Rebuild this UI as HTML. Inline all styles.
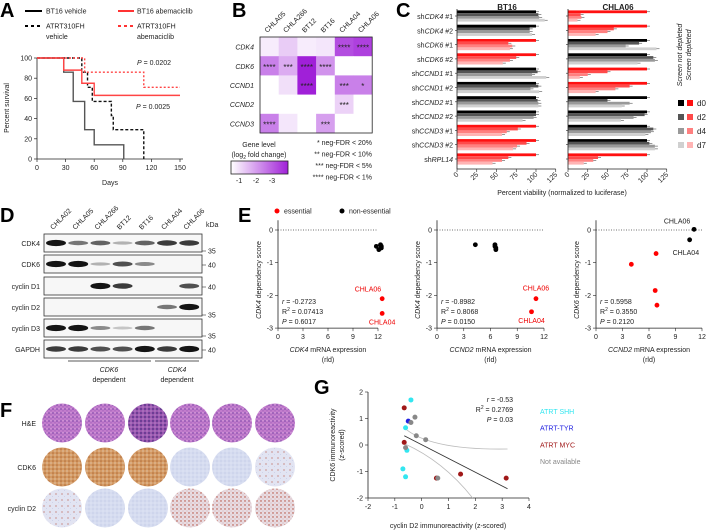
<!DOCTYPE html>
<html><head><meta charset="utf-8">
<style>
html,body{margin:0;padding:0;background:#fff;}
svg{display:block;font-family:"Liberation Sans",sans-serif;}
text{fill:#222;}
.t7{font-size:7px;}
.t8{font-size:8px;}
.lab{font-size:20px;font-weight:bold;fill:#000;}
</style></head>
<body>
<svg id="fig" width="708" height="532" viewBox="0 0 708 532" xmlns="http://www.w3.org/2000/svg">
<defs>
<linearGradient id="hmgrad" x1="0" x2="1" y1="0" y2="0"><stop offset="0" stop-color="#ffffff"/><stop offset="1" stop-color="#a020d8"/></linearGradient>
<pattern id="pHE" width="4" height="4" patternUnits="userSpaceOnUse"><rect width="4" height="4" fill="#c27ccc"/><circle cx="1" cy="1" r="0.8" fill="#7a48a8"/><circle cx="3" cy="2.8" r="0.6" fill="#9a5ab8"/><circle cx="3" cy="0.6" r="0.4" fill="#f0d8f0"/></pattern>
<pattern id="pHE2" width="4" height="4" patternUnits="userSpaceOnUse"><rect width="4" height="4" fill="#9a58b0"/><circle cx="1" cy="1" r="0.9" fill="#4a2a80"/><circle cx="3" cy="3" r="0.5" fill="#e8c8ec"/></pattern>
<pattern id="pBr" width="4" height="4" patternUnits="userSpaceOnUse"><rect width="4" height="4" fill="#d49a64"/><circle cx="1" cy="1" r="0.8" fill="#b06a38"/><circle cx="3" cy="3" r="0.6" fill="#ecdccc"/></pattern>
<pattern id="pBl" width="4" height="4" patternUnits="userSpaceOnUse"><rect width="4" height="4" fill="#d6dcf0"/><circle cx="1" cy="1" r="0.6" fill="#bcc4e2"/><circle cx="3" cy="3" r="0.5" fill="#eef0f8"/></pattern>
<pattern id="pBlDot" width="6" height="6" patternUnits="userSpaceOnUse"><rect width="6" height="6" fill="#e2e4f2"/><circle cx="2" cy="2" r="0.6" fill="#b85848"/><circle cx="4.5" cy="4.5" r="0.5" fill="#c8cce6"/></pattern>
<pattern id="pRd" width="4" height="4" patternUnits="userSpaceOnUse"><rect width="4" height="4" fill="#e8dce2"/><circle cx="1" cy="1" r="0.7" fill="#b04432"/><circle cx="3" cy="3" r="0.5" fill="#c8a0a0"/></pattern>
</defs>

<text class="lab" x="0" y="17">A</text>
<text class="lab" x="232" y="17">B</text>
<text class="lab" x="396" y="17">C</text>
<text class="lab" x="0" y="222">D</text>
<text class="lab" x="238" y="222">E</text>
<text class="lab" x="0" y="417">F</text>
<text class="lab" x="314" y="394">G</text>

<g id="gA"></g>
<g id="gB"></g>
<g id="gC"></g>
<g id="gD"></g>
<g id="gE"></g>
<g id="gF"></g>
<g id="gG"></g>
</svg>
<script>
// ---------- Panel A data ----------
const survTimesBT16Veh = [0,28,38,50,60,91];
const survPctBT16Veh = [100,86,57,29,14,0];
const survTimesBT16Abe = [0,28,47,60,150];
const survPctBT16Abe = [100,88,75,63,63];
const survTimes310Veh = [0,47,53,58,78,80,112];
const survPct310Veh = [100,86,71,57,43,29,0];
const survTimes310Abe = [0,50,112,150];
const survPct310Abe = [100,86,71,71];
const survXTicks = [0,30,60,90,120,150];
const survYTicks = [0,20,40,60,80,100];

// ---------- Panel B data ----------
const hmCols = ["CHLA05","CHLA266","BT12","BT16","CHLA04","CHLA06"];
const hmRows = ["CDK4","CDK6","CCND1","CCND2","CCND3"];
const hmCDK4 = [-0.3,-0.8,-0.3,-0.4,-2.8,-3.0];
const hmCDK6 = [-2.0,-1.3,-3.5,-1.7,0,0];
const hmCCND1 = [0,-0.5,-3.5,0,-2.0,-2.0];
const hmCCND2 = [0,0,0,0,-0.7,0];
const hmCCND3 = [-2.0,-0.4,0,-1.5,0,0];
const hmStarsCDK4 = [0,0,0,0,4,4];
const hmStarsCDK6 = [4,3,4,4,0,0];
const hmStarsCCND1 = [0,0,4,0,3,1];
const hmStarsCCND2 = [0,0,0,0,3,0];
const hmStarsCCND3 = [4,0,0,3,0,0];

// ---------- Panel C data ----------
const shRows = [["CDK4"," #1"],["CDK4"," #2"],["CDK6"," #1"],["CDK6"," #2"],["CCND1"," #1"],["CCND1"," #2"],["CCND2"," #1"],["CCND2"," #2"],["CCND3"," #1"],["CCND3"," #2"],["RPL14",""]];
const bt16D0 = [100,100,100,100,100,100,100,100,100,100,100];
const bt16D2 = [103,92,65,75,102,103,102,100,77,88,65];
const bt16D4 = [104,92,70,67,95,93,103,97,63,76,57];
const bt16D7 = [111,95,67,58,113,104,103,83,57,71,45];
const bt16Depleted = [0,0,1,1,0,0,0,0,1,1,1];
const chla06D0 = [100,100,100,100,100,100,100,100,100,100,100];
const chla06D2 = [16,58,90,108,50,78,50,97,108,103,38];
const chla06D4 = [17,50,73,110,25,60,78,83,105,110,32];
const chla06D7 = [12,35,112,88,15,35,68,67,98,110,20];
const chla06Depleted = [1,1,0,0,1,1,0,0,0,0,1];
const viabTicks = [0,25,50,75,100,125];

// ---------- Panel D data ----------
const blotLanes = ["CHLA02","CHLA05","CHLA266","BT12","BT16","CHLA04","CHLA06"];
const blotRows = ["CDK4","CDK6","cyclin D1","cyclin D2","cyclin D3","GAPDH"];
const blotKDa = ["35","40","40","35","35","40"];
const bandCDK4 = [1,.5,.6,.2,.6,.8,.8];
const bandCDK6 = [1,1,.2,.7,.4,0,0];
const bandD1 = [0,0,1,.8,0,0,.7];
const bandD2 = [0,0,0,0,0,.5,1];
const bandD3 = [1,1,.4,.1,.5,0,0];
const bandGAPDH = [.8,.8,.7,.7,1,.8,1];

// ---------- Panel E data ----------
const e1X = [11.8,12.3,12.4,12.1,12.4,12.5,12.5];
const e1Y = [-0.5,-0.45,-0.55,-0.6,-0.5,-2.1,-2.55];
const e1Ess = [0,0,0,0,0,1,1];
const e2X = [4.3,6.5,6.6,6.6,6.5,11.1,10.6];
const e2Y = [-0.45,-0.5,-0.55,-0.6,-0.45,-2.1,-2.5];
const e2Ess = [0,0,0,0,0,1,1];
const e3X = [11.1,10.6,6.8,4.0,6.7,6.9];
const e3Y = [0.02,-0.3,-0.72,-1.05,-1.85,-2.3];
const e3Ess = [0,0,1,1,1,1];
const eXTicks = [0,3,6,9,12];
const eYTicks = [0,-1,-2,-3];

// ---------- Panel G data ----------
const gX = [-0.4,-0.6,-0.55,-0.7,-0.6,-0.5,-0.65,-0.65,0.55,1.45,3.15,-0.4,-0.25,-0.2,0.15,-0.6,0.6];
const gY = [1.7,0.65,-0.2,-0.9,-1.2,0.9,1.4,0.1,-1.25,-1.1,-1.25,0.85,1.05,0.35,0.2,-0.1,-1.25];
const gGroup = [0,0,0,0,0,1,2,2,2,2,2,3,3,3,3,3,3];
const gGroupNames = ["ATRT SHH","ATRT-TYR","ATRT MYC","Not available"];
const gFitX = [-0.65,3.2];
const gFitY = [0.35,-1.65];
const gXTicks = [-2,-1,0,1,2,3,4];
const gYTicks = [-2,-1,0,1,2];

const NS="http://www.w3.org/2000/svg";
function mk(parent,tag,attrs,txt){const e=document.createElementNS(NS,tag);for(const k in attrs)e.setAttribute(k,attrs[k]);if(txt!==undefined)e.textContent=txt;parent.appendChild(e);return e;}

// ================= A =================
(function(){
const g=document.getElementById('gA');
const xA=d=>37+d*(143/150), yA=p=>159-p*1.01;
mk(g,'line',{x1:37,y1:58,x2:37,y2:159,stroke:'#222','stroke-width':0.8});
mk(g,'line',{x1:37,y1:159,x2:183,y2:159,stroke:'#222','stroke-width':0.8});
survXTicks.forEach(t=>{mk(g,'line',{x1:xA(t),y1:159,x2:xA(t),y2:162,stroke:'#222','stroke-width':0.7});
 const l=mk(g,'text',{x:xA(t),y:170,'text-anchor':'middle',class:'t7'},t);
 
 });
survYTicks.forEach(t=>{mk(g,'line',{x1:34,y1:yA(t),x2:37,y2:yA(t),stroke:'#222','stroke-width':0.7});
 const l=mk(g,'text',{x:32,y:yA(t)+2.5,'text-anchor':'end',class:'t7'},t);
 
 });
let tt=mk(g,'text',{x:110,y:185,'text-anchor':'middle',class:'t7'},'Days');

tt=mk(g,'text',{x:9,y:108,'text-anchor':'middle',class:'t7',transform:'rotate(-90 9 108)'},'Percent survival');

function step(ts,ps,col,dash,name){let d='M'+xA(ts[0])+','+yA(ps[0]);
 for(let i=1;i<ts.length;i++){d+=' H'+xA(ts[i])+' V'+yA(ps[i]);}
 const p=mk(g,'path',{d:d,fill:'none',stroke:col,'stroke-width':1.4,'stroke-dasharray':dash});
 }
step(survTimesBT16Veh,survPctBT16Veh,'#555','', 'bt16-vehicle-curve');
step(survTimes310Veh,survPct310Veh,'#111','3,2','atrt310fh-vehicle-curve');
step(survTimesBT16Abe,survPctBT16Abe,'#f44','', 'bt16-abemaciclib-curve');
step(survTimes310Abe,survPct310Abe,'#f44','2,2','atrt310fh-abemaciclib-curve');
tt=mk(g,'text',{x:137,y:65,class:'t7'},'');mk(tt,'tspan',{'font-style':'italic'},'P');mk(tt,'tspan',{},' = 0.0202');

tt=mk(g,'text',{x:136,y:109,class:'t7'},'');mk(tt,'tspan',{'font-style':'italic'},'P');mk(tt,'tspan',{},' = 0.0025');

const lg=mk(g,'g',{});
mk(lg,'line',{x1:25,y1:11,x2:42,y2:11,stroke:'#000','stroke-width':2});
mk(lg,'text',{x:46,y:13.5,class:'t7'},'BT16 vehicle');
mk(lg,'line',{x1:118,y1:11,x2:134,y2:11,stroke:'#f33','stroke-width':2});
mk(lg,'text',{x:137,y:13.5,class:'t7'},'BT16 abemaciclib');
mk(lg,'line',{x1:25,y1:26,x2:42,y2:26,stroke:'#000','stroke-width':2,'stroke-dasharray':'3,3'});
mk(lg,'text',{x:46,y:28.5,class:'t7'},'ATRT310FH');
mk(lg,'text',{x:46,y:39,class:'t7'},'vehicle');
mk(lg,'line',{x1:118,y1:26,x2:134,y2:26,stroke:'#f33','stroke-width':2,'stroke-dasharray':'3,3'});
mk(lg,'text',{x:137,y:28.5,class:'t7'},'ATRT310FH');
mk(lg,'text',{x:137,y:39,class:'t7'},'abemaciclib');
})();

// ================= B =================
(function(){
const g=document.getElementById('gB');
const L=260,T=37,cw=18.7,rh=19.2;
const vals=[hmCDK4,hmCDK6,hmCCND1,hmCCND2,hmCCND3];
const stars=[hmStarsCDK4,hmStarsCDK6,hmStarsCCND1,hmStarsCCND2,hmStarsCCND3];
function col(v){const f=Math.min(1,Math.max(0,-v/3.5));
 const r=Math.round(255+(160-255)*f),gg=Math.round(255+(32-255)*f),b=Math.round(255+(216-255)*f);return 'rgb('+r+','+gg+','+b+')';}
vals.forEach((row,ri)=>{row.forEach((v,ci)=>{
 const c=mk(g,'rect',{x:L+ci*cw,y:T+ri*rh,width:cw+0.3,height:rh+0.3,fill:col(v)});
 
 const s=stars[ri][ci];
 if(s>0){const st=mk(g,'text',{x:L+ci*cw+cw/2,y:T+ri*rh+rh/2+4,'text-anchor':'middle',style:'font-size:8px;fill:#222'},'*'.repeat(s));
  }
});
 const rl=mk(g,'text',{x:254,y:T+ri*rh+rh/2+3,'text-anchor':'end',class:'t7','font-style':'italic'},hmRows[ri]);
 
});
mk(g,'rect',{x:L,y:T,width:cw*6,height:rh*5,fill:'none',stroke:'#222','stroke-width':0.8});
hmCols.forEach((c,ci)=>{const x=L+ci*cw+cw/2-2,y=T-4;
 const t=mk(g,'text',{x:x,y:y,class:'t7',transform:'rotate(-45 '+x+' '+y+')'},c);
 });
mk(g,'text',{x:259,y:147,'text-anchor':'middle',class:'t7'},'Gene level');
const fl=mk(g,'text',{x:259,y:157,'text-anchor':'middle',class:'t7'},'(log');
mk(fl,'tspan',{style:'font-size:5px',dy:2},'2');mk(fl,'tspan',{dy:-2},' fold change)');
const cb=mk(g,'rect',{x:231,y:161,width:57,height:13,fill:'url(#hmgrad)',stroke:'#222','stroke-width':0.8});

[['-1',239],['-2',256],['-3',272]].forEach(a=>{mk(g,'text',{x:a[1],y:183,'text-anchor':'middle',class:'t7'},a[0]);});
const sl=["* neg-FDR < 20%","** neg-FDR < 10%","*** neg-FDR < 5%","**** neg-FDR < 1%"];
sl.forEach((s,i)=>{const t=mk(g,'text',{x:372,y:145+i*11.5,'text-anchor':'end',class:'t7'},s);
 });
})();

// ================= C =================
(function(){
const g=document.getElementById('gC');
const panels=[{x0:457,d:[bt16D0,bt16D2,bt16D4,bt16D7],dep:bt16Depleted,title:'BT16'},
 {x0:568,d:[chla06D0,chla06D2,chla06D4,chla06D7],dep:chla06Depleted,title:'CHLA06'}];
const blk=['#000','#555','#999','#d0d0d0'], red=['#ff1010','#ff4a4a','#ff8080','#ffb4b4'];
const sc=0.79, yc=i=>16+i*14.3;
panels.forEach((p,pi)=>{
 const t=mk(g,'text',{x:p.x0+50,y:10,'text-anchor':'middle',style:'font-size:8px;font-weight:bold'},p.title);
 
 shRows.forEach((r,i)=>{
  const cols=p.dep[i]?red:blk;
  for(let k=0;k<4;k++){const v=p.d[k][i];
   const b=mk(g,'rect',{x:p.x0,y:yc(i)-5.6+k*2.8,width:v*sc,height:2.8,fill:cols[k]});
   
   mk(g,'line',{x1:p.x0+v*sc,y1:yc(i)-4.2+k*2.8,x2:p.x0+v*sc+3,y2:yc(i)-4.2+k*2.8,stroke:'#333','stroke-width':0.5});}
  mk(g,'line',{x1:p.x0-2,y1:yc(i),x2:p.x0,y2:yc(i),stroke:'#222','stroke-width':0.6});
 });
 mk(g,'line',{x1:p.x0,y1:9,x2:p.x0,y2:169,stroke:'#222','stroke-width':0.8});
 mk(g,'line',{x1:p.x0,y1:169,x2:p.x0+125*sc,y2:169,stroke:'#222','stroke-width':0.8});
 viabTicks.forEach(v=>{const x=p.x0+v*sc;mk(g,'line',{x1:x,y1:169,x2:x,y2:172,stroke:'#222','stroke-width':0.6});
  const l=mk(g,'text',{x:x+2,y:175,'text-anchor':'end',class:'t7',transform:'rotate(-45 '+(x+2)+' 175)'},v);
  });
});
shRows.forEach((r,i)=>{const t=mk(g,'text',{x:453,y:yc(i)+3,'text-anchor':'end',class:'t7'},'sh');
 mk(t,'tspan',{'font-style':'italic'},r[0]);mk(t,'tspan',{},r[1]);
 });
let tt=mk(g,'text',{x:562,y:195,'text-anchor':'middle',class:'t7'},'Percent viability (normalized to luciferase)');

mk(g,'text',{x:682,y:55,'text-anchor':'middle',class:'t7','font-style':'italic',transform:'rotate(-90 682 55)'},'Screen not depleted');
mk(g,'text',{x:691,y:55,'text-anchor':'middle',class:'t7','font-style':'italic',transform:'rotate(-90 691 55)'},'Screen depleted');
['d0','d2','d4','d7'].forEach((d,k)=>{const y=100+k*14;
 const e=mk(g,'g',{});
 mk(e,'rect',{x:678,y:y,width:6,height:6,fill:blk[k]});mk(e,'rect',{x:687,y:y,width:6,height:6,fill:red[k]});
 mk(e,'text',{x:697,y:y+6,class:'t8'},d);});
})();

// ================= D =================
(function(){
const g=document.getElementById('gD');
const bands=[bandCDK4,bandCDK6,bandD1,bandD2,bandD3,bandGAPDH];
const rowY=[243,264,286,307,328,349], lx=i=>56+i*22.2;
blotLanes.forEach((n,i)=>{const x=lx(i)-3,y=230;
 const t=mk(g,'text',{x:x,y:y,class:'t7',transform:'rotate(-45 '+x+' '+y+')'},n);
 });
mk(g,'text',{x:206,y:227,class:'t7'},'kDa');
blotRows.forEach((r,ri)=>{const y=rowY[ri];
 const box=mk(g,'rect',{x:44,y:y-9,width:158,height:18,fill:'#f7f7f7',stroke:'#333','stroke-width':0.8});
 
 bands[ri].forEach((v,i)=>{if(v<=0)return;
  const b=mk(g,'ellipse',{cx:lx(i),cy:y,rx:10,ry:1.3+v*1.8,fill:'#000','fill-opacity':0.12+v*0.8});
  });
 const l=mk(g,'text',{x:40,y:y+3,'text-anchor':'end',class:'t7'},r);
 
 const my=(blotKDa[ri]==='35')?y+8:y+1;
 mk(g,'line',{x1:202,y1:my,x2:206,y2:my,stroke:'#333','stroke-width':0.6});
 mk(g,'text',{x:208,y:my+2.5,class:'t7'},blotKDa[ri]);
});
mk(g,'line',{x1:68,y1:361,x2:151,y2:361,stroke:'#222','stroke-width':0.8});
mk(g,'line',{x1:155,y1:361,x2:199,y2:361,stroke:'#222','stroke-width':0.8});
mk(g,'text',{x:109,y:372,'text-anchor':'middle',class:'t7','font-style':'italic'},'CDK6');
mk(g,'text',{x:109,y:382,'text-anchor':'middle',class:'t7'},'dependent');
mk(g,'text',{x:177,y:372,'text-anchor':'middle',class:'t7','font-style':'italic'},'CDK4');
mk(g,'text',{x:177,y:382,'text-anchor':'middle',class:'t7'},'dependent');
})();

// ================= E =================
(function(){
const g=document.getElementById('gE');
const lg=mk(g,'g',{});
mk(lg,'circle',{cx:277,cy:211,r:2.5,fill:'#f00'});mk(lg,'text',{x:284,y:213.5,class:'t7'},'essential');
mk(lg,'circle',{cx:342,cy:211,r:2.5,fill:'#000'});mk(lg,'text',{x:349,y:213.5,class:'t7'},'non-essential');
const plots=[
 {x0:278,x12:378,X:e1X,Y:e1Y,E:e1Ess,yg:'CDK4',xg:'CDK4',stats:['-0.2723','0.07413','0.6017'],labels:[[12.5,-2.1,'CHLA06',-1,-7,'end'],[12.5,-2.55,'CHLA04',0,11,'middle']],lc:'#e00'},
 {x0:437,x12:544,X:e2X,Y:e2Y,E:e2Ess,yg:'CDK4',xg:'CCND2',stats:['-0.8982','0.8068','0.0150'],labels:[[11.1,-2.1,'CHLA06',0,-8,'middle'],[10.6,-2.5,'CHLA04',0,11,'middle']],lc:'#e00'},
 {x0:596,x12:702,X:e3X,Y:e3Y,E:e3Ess,yg:'CDK6',xg:'CCND2',stats:['0.5958','0.3550','0.2120'],labels:[[11.1,0.02,'CHLA06',-17,-6,'middle'],[10.6,-0.3,'CHLA04',-17,15,'start']],lc:'#222'}
];
const y0=230,yU=32.7;
plots.forEach((p,pi)=>{
 const xs=v=>p.x0+v*(p.x12-p.x0)/12, ys=v=>y0-v*yU;
 mk(g,'line',{x1:p.x0,y1:ys(0.3),x2:p.x0,y2:ys(-3),stroke:'#222','stroke-width':0.8});
 mk(g,'line',{x1:p.x0,y1:ys(-3),x2:p.x12,y2:ys(-3),stroke:'#222','stroke-width':0.8});
 mk(g,'line',{x1:p.x0,y1:ys(0),x2:p.x12,y2:ys(0),stroke:'#444','stroke-width':0.7,'stroke-dasharray':'1,1.5'});
 eXTicks.forEach(t=>{mk(g,'line',{x1:xs(t),y1:ys(-3),x2:xs(t),y2:ys(-3)+3,stroke:'#222','stroke-width':0.6});
  const l=mk(g,'text',{x:xs(t),y:ys(-3)+11,'text-anchor':'middle',class:'t7'},t);
  });
 eYTicks.forEach(t=>{mk(g,'line',{x1:p.x0-3,y1:ys(t),x2:p.x0,y2:ys(t),stroke:'#222','stroke-width':0.6});
  const l=mk(g,'text',{x:p.x0-5,y:ys(t)+2.5,'text-anchor':'end',class:'t7'},t);
  });
 p.X.forEach((x,i)=>{const c=mk(g,'circle',{cx:xs(x),cy:ys(p.Y[i]),r:2.4,fill:p.E[i]?'#f00':'#000'});
  });
 p.labels.forEach(l=>{mk(g,'text',{x:xs(l[0])+l[3],y:ys(l[1])+l[4],'text-anchor':l[5],class:'t7',style:'fill:'+p.lc},l[2]);});
 const sx=p.x0+4;
 let t=mk(g,'text',{x:sx,y:304,class:'t7'},'');mk(t,'tspan',{'font-style':'italic'},'r');mk(t,'tspan',{},' = '+p.stats[0]);
 t=mk(g,'text',{x:sx,y:314,class:'t7'},'R');mk(t,'tspan',{style:'font-size:5px',dy:-3},'2');mk(t,'tspan',{dy:3},' = '+p.stats[1]);
 t=mk(g,'text',{x:sx,y:324,class:'t7'},'');mk(t,'tspan',{'font-style':'italic'},'P');mk(t,'tspan',{},' = '+p.stats[2]);
 const mx=(p.x0+p.x12)/2;
 t=mk(g,'text',{x:mx,y:352,'text-anchor':'middle',class:'t7'},'');mk(t,'tspan',{'font-style':'italic'},p.xg);mk(t,'tspan',{},' mRNA expression');
 
 mk(g,'text',{x:mx,y:362,'text-anchor':'middle',class:'t7'},'(rld)');
 const ty=280,tx=p.x0-17;
 t=mk(g,'text',{x:tx,y:ty,'text-anchor':'middle',class:'t7',transform:'rotate(-90 '+tx+' '+ty+')'},'');
 mk(t,'tspan',{'font-style':'italic'},p.yg);mk(t,'tspan',{},' dependency score');
 
});
})();

// ================= F =================
(function(){
const g=document.getElementById('gF');
const cx=[62,105,148,190,232,275], cy=[423,467,508];
const fills=[['url(#pHE)','url(#pHE)','url(#pHE2)','url(#pHE)','url(#pHE)','url(#pHE)'],
 ['url(#pBr)','url(#pBr)','url(#pBr)','url(#pBl)','url(#pBl)','url(#pBlDot)'],
 ['url(#pBlDot)','url(#pBl)','url(#pBl)','url(#pRd)','url(#pRd)','url(#pRd)']];
['H&E','CDK6','cyclin D2'].forEach((n,ri)=>{
 const l=mk(g,'text',{x:36,y:cy[ri]+3,'text-anchor':'end',class:'t7'},n);
 
 cx.forEach((x,ci)=>{const c=mk(g,'ellipse',{cx:x,cy:cy[ri],rx:20,ry:19.5,fill:fills[ri][ci]});
  });
});
})();

// ================= G =================
(function(){
const g=document.getElementById('gG');
const xs=v=>368+(v+2)*(161/6), ys=v=>392+(2-v)*26.5;
const cols=['#33e6f0','#2020e0','#a01818','#888'];
mk(g,'line',{x1:368,y1:ys(-2),x2:529,y2:ys(-2),stroke:'#222','stroke-width':0.8});
mk(g,'line',{x1:368,y1:ys(2),x2:368,y2:ys(-2),stroke:'#222','stroke-width':0.8});
gXTicks.forEach(t=>{mk(g,'line',{x1:xs(t),y1:ys(-2),x2:xs(t),y2:ys(-2)+3,stroke:'#222','stroke-width':0.6});
 const l=mk(g,'text',{x:xs(t),y:ys(-2)+11,'text-anchor':'middle',class:'t7'},t);
 });
gYTicks.forEach(t=>{mk(g,'line',{x1:365,y1:ys(t),x2:368,y2:ys(t),stroke:'#222','stroke-width':0.6});
 const l=mk(g,'text',{x:363,y:ys(t)+2.5,'text-anchor':'end',class:'t7'},t);
 });
mk(g,'path',{d:'M'+xs(-0.65)+','+ys(0.65)+' Q'+xs(0.3)+','+ys(-0.2)+' '+xs(3.2)+','+ys(-0.15),fill:'none',stroke:'#bbb','stroke-width':0.8});
mk(g,'path',{d:'M'+xs(-0.65)+','+ys(0.05)+' Q'+xs(0.8)+','+ys(-0.6)+' '+xs(1.9)+','+ys(-2),fill:'none',stroke:'#bbb','stroke-width':0.8});
const fl=mk(g,'line',{x1:xs(gFitX[0]),y1:ys(gFitY[0]),x2:xs(gFitX[1]),y2:ys(gFitY[1]),stroke:'#333','stroke-width':0.9});

gX.forEach((x,i)=>{const c=mk(g,'circle',{cx:xs(x),cy:ys(gY[i]),r:2.5,fill:cols[gGroup[i]]});
 });
let t=mk(g,'text',{x:513,y:402,'text-anchor':'end',class:'t7'},'');mk(t,'tspan',{'font-style':'italic'},'r');mk(t,'tspan',{},' = -0.53');
t=mk(g,'text',{x:513,y:412,'text-anchor':'end',class:'t7'},'R');mk(t,'tspan',{style:'font-size:5px',dy:-3},'2');mk(t,'tspan',{dy:3},' = 0.2769');
t=mk(g,'text',{x:513,y:422,'text-anchor':'end',class:'t7'},'');mk(t,'tspan',{'font-style':'italic'},'P');mk(t,'tspan',{},' = 0.03');
gGroupNames.forEach((n,i)=>{const l=mk(g,'text',{x:540,y:414+i*16.7,class:'t7',style:'fill:'+cols[i]},n);
 });
t=mk(g,'text',{x:448,y:528,'text-anchor':'middle',class:'t7'},'cyclin D2 immunoreactivity (z-scored)');

t=mk(g,'text',{x:335,y:445,'text-anchor':'middle',class:'t7',transform:'rotate(-90 335 445)'},'CDK6 immunoreactivity');

mk(g,'text',{x:344,y:445,'text-anchor':'middle',class:'t7',transform:'rotate(-90 344 445)'},'(z-scored)');
})();
</script>
</body></html>
